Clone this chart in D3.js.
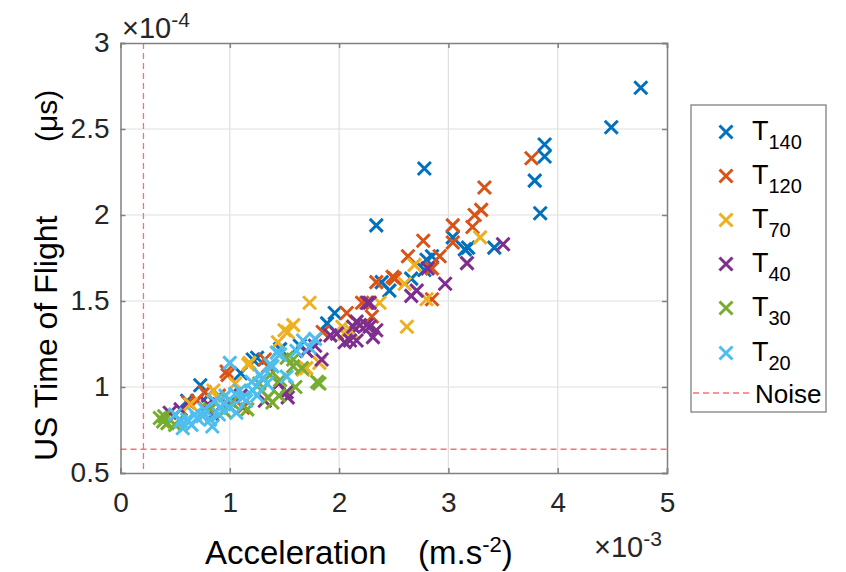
<!DOCTYPE html>
<html><head><meta charset="utf-8">
<script src="https://cdn.jsdelivr.net/npm/d3@7"></script>
<style>body{margin:0;background:#fff;} svg{display:block;font-family:"Liberation Sans",Arial,sans-serif;}</style>
</head><body><svg id="c" width="846" height="572"></svg>
<script>
// values: x in 1e-3 m.s^-2, y in 1e-4 (µs)
const seriesNames = ["140","120","70","40","30","20"];
const colors = ["#0072BD","#D95319","#EDB120","#7E2F8E","#77AC30","#4DBEEE"];
const T140 = [[4.76,2.74],[4.49,2.51],[3.88,2.41],[3.88,2.34],[3.79,2.20],[3.84,2.01],[2.78,2.27],[2.34,1.94],[3.04,1.87],[3.15,1.80],[3.18,1.81],[3.42,1.81],[2.80,1.74],[2.85,1.76],[2.46,1.56],[2.66,1.63],[2.39,1.61],[1.96,1.43],[1.89,1.37],[1.25,1.17],[0.61,0.92],[1.21,1.16],[0.73,1.01],[1.46,1.22],[1.64,1.24],[2.78,1.68],[0.80,0.95],[1.10,1.08]];
const T120 = [[3.76,2.33],[3.33,2.16],[3.30,2.03],[3.24,2.00],[3.04,1.94],[3.22,1.93],[2.77,1.85],[3.04,1.84],[2.92,1.76],[2.63,1.76],[2.51,1.63],[2.34,1.61],[2.85,1.69],[2.85,1.51],[2.21,1.49],[2.07,1.43],[2.30,1.41],[1.85,1.32],[2.49,1.64],[1.35,1.12],[0.97,1.09],[0.77,0.97],[0.62,0.91],[1.32,1.16],[1.12,0.88],[0.98,1.07],[2.25,1.49],[0.70,0.92],[0.90,0.95]];
const T70 = [[3.29,1.87],[2.69,1.71],[2.60,1.60],[2.80,1.51],[2.62,1.35],[1.73,1.49],[2.37,1.49],[1.58,1.36],[2.03,1.35],[2.12,1.32],[1.53,1.32],[1.44,1.26],[1.82,1.14],[1.67,1.10],[2.05,1.31],[1.50,1.33],[1.17,1.13],[1.70,1.11],[1.18,1.14],[0.85,0.98],[0.64,0.90],[0.90,0.93],[1.05,1.02]];
const T40 = [[3.50,1.83],[3.17,1.72],[2.81,1.69],[2.97,1.60],[2.66,1.53],[2.71,1.56],[2.28,1.49],[2.16,1.38],[2.28,1.35],[2.34,1.33],[1.92,1.30],[2.05,1.26],[2.26,1.49],[2.19,1.36],[1.98,1.31],[2.10,1.27],[2.25,1.36],[2.13,1.35],[1.70,1.21],[1.78,1.24],[2.16,1.27],[2.31,1.29],[1.52,0.97],[0.45,0.85],[1.32,0.92],[1.53,0.94],[1.84,1.16],[0.84,0.84],[1.00,0.92],[0.55,0.87],[0.80,0.90],[1.10,0.95],[1.45,1.02]];
const T30 = [[0.39,0.80],[0.43,0.79],[0.36,0.82],[1.16,0.87],[1.39,0.91],[1.82,1.02],[1.58,1.16],[1.66,1.11],[1.29,0.98],[1.02,0.91],[1.52,1.17],[1.58,1.12],[1.80,1.03],[1.37,1.07],[1.27,1.02],[1.46,1.04],[1.35,0.94],[0.54,0.81],[0.82,0.87],[0.40,0.83],[0.50,0.78],[0.95,0.86],[1.45,0.95],[1.60,1.00]];
const T20 = [[1.00,1.14],[0.84,0.77],[0.57,0.76],[0.70,0.82],[1.78,1.28],[1.67,1.27],[1.61,1.21],[1.43,1.20],[1.37,1.13],[1.28,1.07],[1.46,1.19],[1.73,1.23],[1.39,1.12],[0.61,0.81],[0.68,0.84],[0.82,0.81],[1.06,0.85],[1.12,0.94],[1.21,0.98],[1.34,1.02],[1.52,1.06],[0.91,0.88],[0.50,0.84],[0.77,0.87],[0.96,0.95],[1.09,0.98],[0.86,0.92],[0.55,0.80],[0.65,0.78],[0.75,0.83],[0.90,0.84],[1.00,0.88],[1.15,0.92],[1.25,0.95],[1.05,0.96],[1.20,1.03],[1.30,1.05],[0.95,0.90]];
const seriesData = [T140,T120,T70,T40,T30,T20];
const xTicks = [0,1,2,3,4,5];
const yTicks = [0.5,1,1.5,2,2.5,3];
const yTickLabels = ["0.5","1","1.5","2","2.5","3"];
const noiseX = 0.21, noiseY = 0.638;

const svg = d3.select("#c");
const L=120.5, R=667, T=43, B=473;
const x = d3.scaleLinear().domain([0,5]).range([L,R]);
const y = d3.scaleLinear().domain([0.5,3]).range([B,T]);
const axisCol = "#808080", txtCol = "#262626";

// grid
const g = svg.append("g");
g.selectAll(".gx").data(xTicks.slice(1,-1)).join("line").attr("x1",d=>x(d)).attr("x2",d=>x(d)).attr("y1",T).attr("y2",B).attr("stroke","#e0e0e0").attr("stroke-width",1.2);
g.selectAll(".gy").data(yTicks.slice(1,-1)).join("line").attr("y1",d=>y(d)).attr("y2",d=>y(d)).attr("x1",L).attr("x2",R).attr("stroke","#e0e0e0").attr("stroke-width",1.2);

// noise lines
svg.append("line").attr("x1",x(noiseX)).attr("x2",x(noiseX)).attr("y1",T).attr("y2",B).attr("stroke","#ff6e6e").attr("stroke-width",1.3).attr("stroke-dasharray","6,4");
svg.append("line").attr("x1",L).attr("x2",R).attr("y1",y(noiseY)).attr("y2",y(noiseY)).attr("stroke","#ff6e6e").attr("stroke-width",1.3).attr("stroke-dasharray","6,4");

// markers
const s = 6.5;
function cross(sel, col){
  sel.append("path").attr("d",`M${-s},${-s}L${s},${s}M${-s},${s}L${s},${-s}`).attr("stroke",col).attr("stroke-width",3).attr("fill","none");
}
seriesData.forEach((data,i)=>{
  const grp = svg.append("g");
  data.forEach(d=>{
    const m = grp.append("g").attr("transform",`translate(${x(d[0])},${y(d[1])})`);
    cross(m, colors[i]);
  });
});

// axes box with inward ticks
const xb = d3.axisBottom(x).tickValues(xTicks).tickSize(-5).tickPadding(19).tickFormat(d3.format("d"));
const xt = d3.axisTop(x).tickValues(xTicks).tickSize(-5).tickFormat("");
const yl = d3.axisLeft(y).tickValues(yTicks).tickSize(-5).tickPadding(11).tickFormat((d,i)=>yTickLabels[i]);
const yr = d3.axisRight(y).tickValues(yTicks).tickSize(-5).tickFormat("");
function style(a){
  a.attr("font-size",null).attr("font-family",null);
  a.select(".domain").attr("stroke",axisCol).attr("stroke-width",1.5);
  a.selectAll(".tick line").attr("stroke",axisCol).attr("stroke-width",1.5);
  a.selectAll(".tick text").attr("fill",txtCol).attr("font-size","28px");
}
svg.append("g").attr("transform",`translate(0,${B})`).call(xb).call(style);
svg.append("g").attr("transform",`translate(0,${T})`).call(xt).call(style);
svg.append("g").attr("transform",`translate(${L},0)`).call(yl).call(style);
svg.append("g").attr("transform",`translate(${R},0)`).call(yr).call(style);

// exponent labels
const e4 = svg.append("text").attr("x",122).attr("y",38).attr("fill",txtCol).attr("font-size","29px");
e4.append("tspan").text("×10");
e4.append("tspan").attr("dy",-11).attr("font-size","21px").text("-4");
const e3 = svg.append("text").attr("x",594).attr("y",557).attr("fill",txtCol).attr("font-size","29px");
e3.append("tspan").text("×10");
e3.append("tspan").attr("dy",-11).attr("font-size","21px").text("-3");

// axis labels
const xl = svg.append("text").attr("x",205).attr("y",564).attr("fill","#000").attr("font-size","33px");
xl.append("tspan").text("Acceleration");
xl.append("tspan").attr("x",418).text("(m.s");
xl.append("tspan").attr("dy",-12).attr("font-size","22px").text("-2");
xl.append("tspan").attr("dy",12).text(")");
svg.append("text").attr("transform","translate(57,461) rotate(-90)").attr("fill","#000").attr("font-size","32px").text("US Time of Flight");
svg.append("text").attr("transform","translate(57,142) rotate(-90)").attr("fill","#000").attr("font-size","30px").text("(μs)");

// legend
svg.append("rect").attr("x",691).attr("y",105).attr("width",135).attr("height",307).attr("fill","#fff").attr("stroke","#808080").attr("stroke-width",1.3);
const legY = [132,176,220,264,308,353];
seriesNames.forEach((n,i)=>{
  const m = svg.append("g").attr("transform",`translate(726,${legY[i]})`);
  cross(m, colors[i]);
  const t = svg.append("text").attr("x",752).attr("y",legY[i]+8).attr("fill","#000").attr("font-size","27px");
  t.append("tspan").text("T");
  t.append("tspan").attr("dy",9).attr("font-size","20px").text(n);
});
svg.append("line").attr("x1",693).attr("x2",752).attr("y1",393).attr("y2",393).attr("stroke","#ff6e6e").attr("stroke-width",1.3).attr("stroke-dasharray","6,4");
svg.append("text").attr("x",755).attr("y",403).attr("fill","#000").attr("font-size","26px").text("Noise");
</script></body></html>
